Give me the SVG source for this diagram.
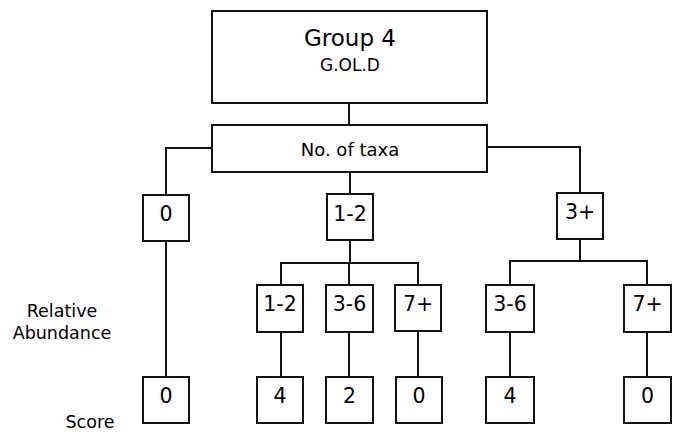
<svg xmlns="http://www.w3.org/2000/svg" width="681" height="433" viewBox="0 0 681 433">
<style>
rect.b{fill:#fff;stroke:#111;stroke-width:2}
.c path{fill:none;stroke:#111;stroke-width:2}
text{font-family:"DejaVu Sans",Verdana,sans-serif;fill:#000;text-anchor:middle}
.v{font-size:20.5px}
.l{font-size:17.5px}
</style>
<rect width="681" height="433" fill="#fff"/>
<g id="connectors" class="c">
<path d="M349 103V125"/>
<path d="M212 148H166V195"/>
<path d="M350 172V194"/>
<path d="M487 147H580V193"/>
<path d="M166 241V377"/>
<path d="M350 240V263M281 285V263H418V285M349 263V285"/>
<path d="M580 239V261M510 285V261H647V285"/>
<path d="M281 332V377M349 332V377M418 332V377M510 332V377M647 332V377"/>
</g>
<g id="group4"><rect class="b" x="212" y="11" width="275" height="92"/><text x="350" y="46" font-size="23">Group 4</text><text x="350" y="71" font-size="17">G.OL.D</text></g>
<g id="taxa"><rect class="b" x="212" y="125" width="275" height="47"/><text x="350" y="156" font-size="18">No. of taxa</text></g>
<g id="t0"><rect class="b" x="143" y="195" width="46" height="46"/><text class="v" x="166" y="221">0</text></g>
<g id="t12"><rect class="b" x="327" y="194" width="46" height="46"/><text class="v" x="350" y="221">1-2</text></g>
<g id="t3p"><rect class="b" x="557" y="193" width="46" height="46"/><text class="v" x="580" y="219">3+</text></g>
<g id="a12"><rect class="b" x="257" y="285" width="46" height="47"/><text class="v" x="280" y="311">1-2</text></g>
<g id="a36"><rect class="b" x="326" y="285" width="47" height="47"/><text class="v" x="349.5" y="311">3-6</text></g>
<g id="a7p"><rect class="b" x="395" y="285" width="46" height="46"/><text class="v" x="418" y="311">7+</text></g>
<g id="b36"><rect class="b" x="486" y="285" width="48" height="47"/><text class="v" x="510" y="311">3-6</text></g>
<g id="b7p"><rect class="b" x="624" y="285" width="47" height="47"/><text class="v" x="647.5" y="311">7+</text></g>
<g id="s1"><rect class="b" x="143" y="377" width="46" height="46"/><text class="v" x="166" y="403">0</text></g>
<g id="s2"><rect class="b" x="257" y="377" width="46" height="46"/><text class="v" x="280" y="403">4</text></g>
<g id="s3"><rect class="b" x="326" y="377" width="47" height="46"/><text class="v" x="349.5" y="403">2</text></g>
<g id="s4"><rect class="b" x="396" y="377" width="46" height="46"/><text class="v" x="419" y="403">0</text></g>
<g id="s5"><rect class="b" x="486" y="377" width="48" height="46"/><text class="v" x="510" y="403">4</text></g>
<g id="s6"><rect class="b" x="624" y="377" width="47" height="46"/><text class="v" x="647.5" y="403">0</text></g>
<g id="labels"><text class="l" x="62" y="317">Relative</text><text class="l" x="62" y="339">Abundance</text><text class="l" x="90" y="428">Score</text></g>
</svg>
